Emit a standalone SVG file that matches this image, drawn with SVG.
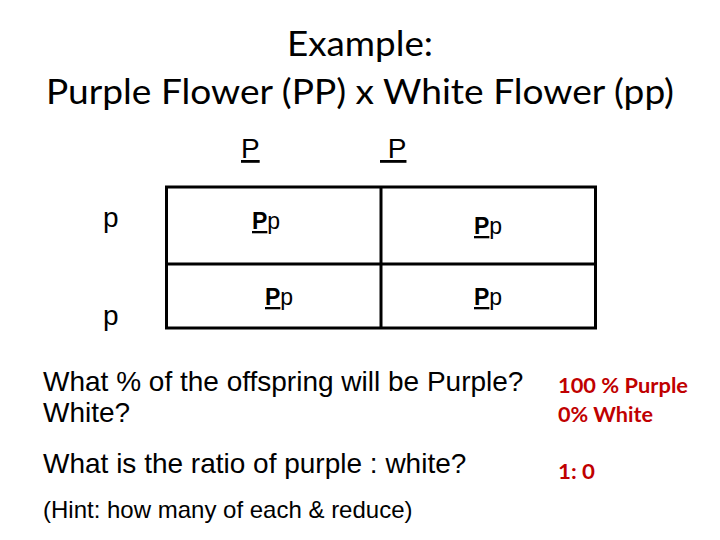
<svg xmlns="http://www.w3.org/2000/svg" width="720" height="540" viewBox="0 0 720 540">
  <style>
    .title { font-family: Lato, "Open Sans", sans-serif; font-size: 34px; fill: #000; }
    .arial { font-family: "Liberation Sans", Arial, sans-serif; fill: #000; }
    .big { font-size: 28px; }
    .cell { font-size: 23px; }
    .hint { font-size: 24px; }
    .ans { font-family: Lato, "Open Sans", sans-serif; font-weight: bold; font-size: 21px; fill: #c00000; }
    .grid { fill: none; stroke: #000; stroke-width: 3; }
  </style>
  <rect width="720" height="540" fill="#fff"/>
  <g id="title">
    <text class="title" x="360" y="56" text-anchor="middle" textLength="146" lengthAdjust="spacingAndGlyphs">Example:</text>
    <text class="title" x="360" y="104" text-anchor="middle" textLength="628" lengthAdjust="spacingAndGlyphs">Purple Flower (PP) x White Flower (pp)</text>
  </g>
  <g id="headers">
    <text class="arial big" x="241" y="158" text-decoration="underline">P</text>
    <text class="arial big" x="380" y="158" text-decoration="underline" xml:space="preserve"> P</text>
    <text class="arial big" x="103" y="227">p</text>
    <text class="arial big" x="103" y="325">p</text>
  </g>
  <g id="table">
    <rect class="grid" x="166.5" y="187" width="429" height="141"/>
    <line class="grid" x1="381" y1="187" x2="381" y2="328"/>
    <line class="grid" x1="166.5" y1="264" x2="595.5" y2="264"/>
  </g>
  <g id="cells">
    <text class="arial cell" x="252" y="229"><tspan font-weight="bold" text-decoration="underline">P</tspan>p</text>
    <text class="arial cell" x="474" y="234"><tspan font-weight="bold" text-decoration="underline">P</tspan>p</text>
    <text class="arial cell" x="265" y="305"><tspan font-weight="bold" text-decoration="underline">P</tspan>p</text>
    <text class="arial cell" x="474" y="305"><tspan font-weight="bold" text-decoration="underline">P</tspan>p</text>
  </g>
  <g id="questions">
    <text class="arial big" x="43" y="391">What % of the offspring will be Purple?</text>
    <text class="arial big" x="43" y="422">White?</text>
    <text class="arial big" x="43" y="473">What is the ratio of purple : white?</text>
    <text class="arial hint" x="43" y="518">(Hint: how many of each &amp; reduce)</text>
  </g>
  <g id="answers">
    <text class="ans" x="558" y="393" textLength="130" lengthAdjust="spacingAndGlyphs">100 % Purple</text>
    <text class="ans" x="558" y="422" textLength="95" lengthAdjust="spacingAndGlyphs">0% White</text>
    <text class="ans" x="558" y="479" textLength="37" lengthAdjust="spacingAndGlyphs">1: 0</text>
  </g>
</svg>
